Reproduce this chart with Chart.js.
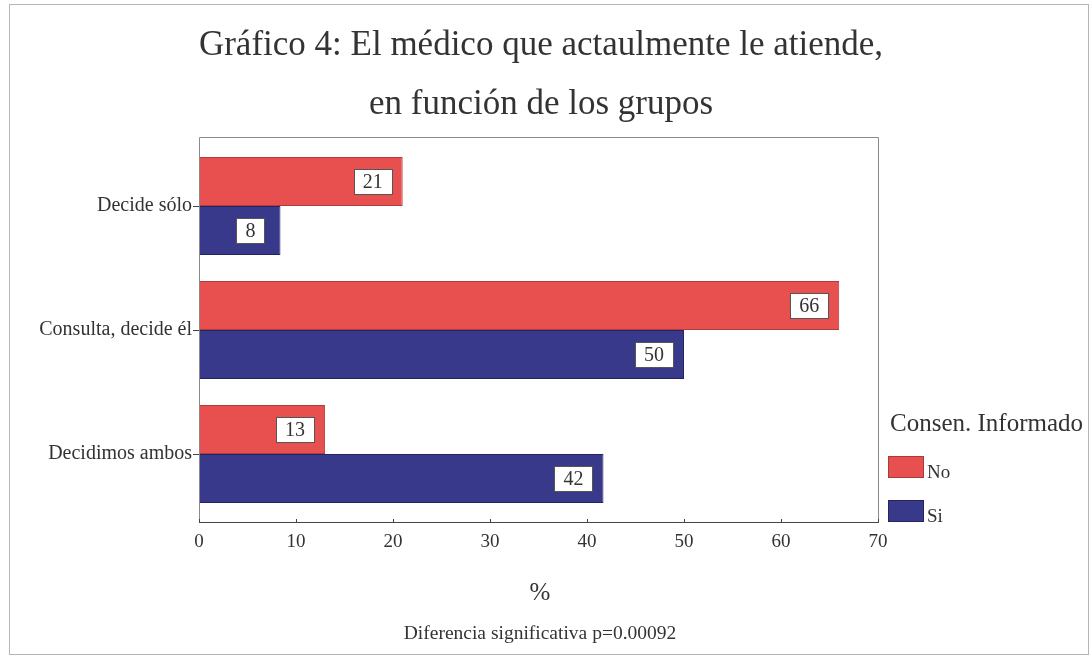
<!DOCTYPE html>
<html>
<head>
<meta charset="utf-8">
<script src="https://cdn.jsdelivr.net/npm/chart.js@4/dist/chart.umd.min.js"></script>
<style>
  body { margin: 0; background: #fff; }
  canvas { display: block; }
</style>
</head>
<body>
<canvas id="chart" width="1091" height="656"></canvas>
<script>
// --- Data ---
const categories = ['Decide sólo', 'Consulta, decide él', 'Decidimos ambos'];
const valuesNo = [21, 66, 13];
const valuesSi = [8.4, 50, 41.7];
const xTicks = [0, 10, 20, 30, 40, 50, 60, 70];
const titleLines = ['Gráfico 4: El médico que actaulmente le atiende,', 'en función de los grupos'];
const legendTitle = 'Consen. Informado';
const seriesNames = ['No', 'Si'];
const axisTitle = '%';
const footnote = 'Diferencia significativa p=0.00092';

const SERIF = "'Liberation Serif', 'Times New Roman', serif";
const RED = '#e8504f';
const BLUE = '#38398a';
const INK = '#333';

// --- Custom drawing: frame, plot box, axis line, value boxes, texts ---
const decorations = {
    id: 'decorations',
    beforeDraw(chart) {
        const c = chart.ctx;
        c.save();
        c.fillStyle = '#fff';
        c.fillRect(0, 0, chart.width, chart.height);
        // outer frame
        c.strokeStyle = '#b5b5b5';
        c.lineWidth = 1;
        c.strokeRect(9.5, 4.5, 1079, 650);
        c.restore();
    },
    afterDraw(chart) {
        const c = chart.ctx;
        const a = chart.chartArea;
        const xs = chart.scales.x;
        const top = a.top - 7, bottom = a.bottom + 6;
        c.save();

        // plot box
        c.strokeStyle = '#8a8a8a';
        c.lineWidth = 1;
        c.beginPath();
        c.moveTo(a.left + 0.5, bottom);
        c.lineTo(a.left + 0.5, top + 0.5);
        c.lineTo(a.right + 0.5, top + 0.5);
        c.lineTo(a.right + 0.5, bottom);
        c.stroke();

        // x axis line + ticks
        c.strokeStyle = '#444';
        c.beginPath();
        c.moveTo(a.left, bottom + 0.5);
        c.lineTo(a.right + 1, bottom + 0.5);
        xTicks.forEach(t => {
            const px = Math.round(xs.getPixelForValue(t)) + 0.5;
            c.moveTo(px, bottom - 3);
            c.lineTo(px, bottom + 1);
        });
        c.stroke();

        // value boxes
        c.font = '20px ' + SERIF;
        c.textAlign = 'center';
        c.textBaseline = 'middle';
        chart.data.datasets.forEach((ds, i) => {
            chart.getDatasetMeta(i).data.forEach((bar, j) => {
                const txt = String(Math.round(ds.data[j]));
                const w = Math.round(c.measureText(txt).width + 18);
                const h = 25;
                const cx = bar.x - 30;
                const bx = Math.round(cx - w / 2) + 0.5;
                const by = Math.round(bar.y - h / 2) + 0.5;
                c.fillStyle = '#fff';
                c.fillRect(bx, by, w, h);
                c.strokeStyle = '#555';
                c.strokeRect(bx, by, w, h);
                c.fillStyle = INK;
                c.fillText(txt, cx, bar.y + 1);
            });
        });

        // title
        c.fillStyle = INK;
        c.font = '35px ' + SERIF;
        c.fillText(titleLines[0], 541, 46);
        c.fillText(titleLines[1], 541, 105);

        // axis title + footnote
        c.font = '25px ' + SERIF;
        c.fillText(axisTitle, 540, 593);
        c.font = '19.5px ' + SERIF;
        c.fillText(footnote, 540, 634);

        // legend
        c.textAlign = 'left';
        c.font = '25px ' + SERIF;
        c.fillText(legendTitle, 890, 424);
        const colors = [RED, BLUE];
        const borders = ['#a83a3a', '#24255e'];
        c.font = '19px ' + SERIF;
        c.textBaseline = 'alphabetic';
        seriesNames.forEach((name, i) => {
            const y = 456 + i * 44;
            c.fillStyle = colors[i];
            c.fillRect(888, y, 36, 22);
            c.strokeStyle = borders[i];
            c.strokeRect(888.5, y + 0.5, 35, 21);
            c.fillStyle = INK;
            c.fillText(name, 927, y + 22);
        });
        c.restore();
    }
};

const ctx = document.getElementById('chart').getContext('2d');
new Chart(ctx, {
    type: 'bar',
    data: {
        labels: categories,
        datasets: [
            {
                label: seriesNames[0],
                data: valuesNo,
                backgroundColor: RED,
                borderColor: '#b03c3c',
                borderWidth: 1,
                borderSkipped: false
            },
            {
                label: seriesNames[1],
                data: valuesSi,
                backgroundColor: BLUE,
                borderColor: '#24255e',
                borderWidth: 1,
                borderSkipped: false
            }
        ]
    },
    options: {
        indexAxis: 'y',
        responsive: false,
        animation: false,
        devicePixelRatio: 1,
        categoryPercentage: 98 / 124,
        barPercentage: 1,
        layout: { padding: { top: 144, right: 213, bottom: 100, left: 0 } },
        plugins: {
            legend: { display: false },
            title: { display: false },
            tooltip: { enabled: false }
        },
        scales: {
            x: {
                min: 0,
                max: 70,
                afterBuildTicks: s => { s.ticks = xTicks.map(v => ({ value: v })); },
                afterFit: s => { s.height = 40; },
                grid: { display: false, drawTicks: false },
                border: { display: false },
                ticks: {
                    color: INK,
                    padding: 15,
                    font: { family: SERIF, size: 19 }
                }
            },
            y: {
                afterFit: s => { s.width = 199; },
                grid: {
                    drawOnChartArea: false,
                    offset: false,
                    tickLength: 6,
                    color: '#444'
                },
                border: { display: false },
                ticks: {
                    color: INK,
                    padding: 1,
                    font: { family: SERIF, size: 20 }
                }
            }
        }
    },
    plugins: [decorations]
});
</script>
</body>
</html>
